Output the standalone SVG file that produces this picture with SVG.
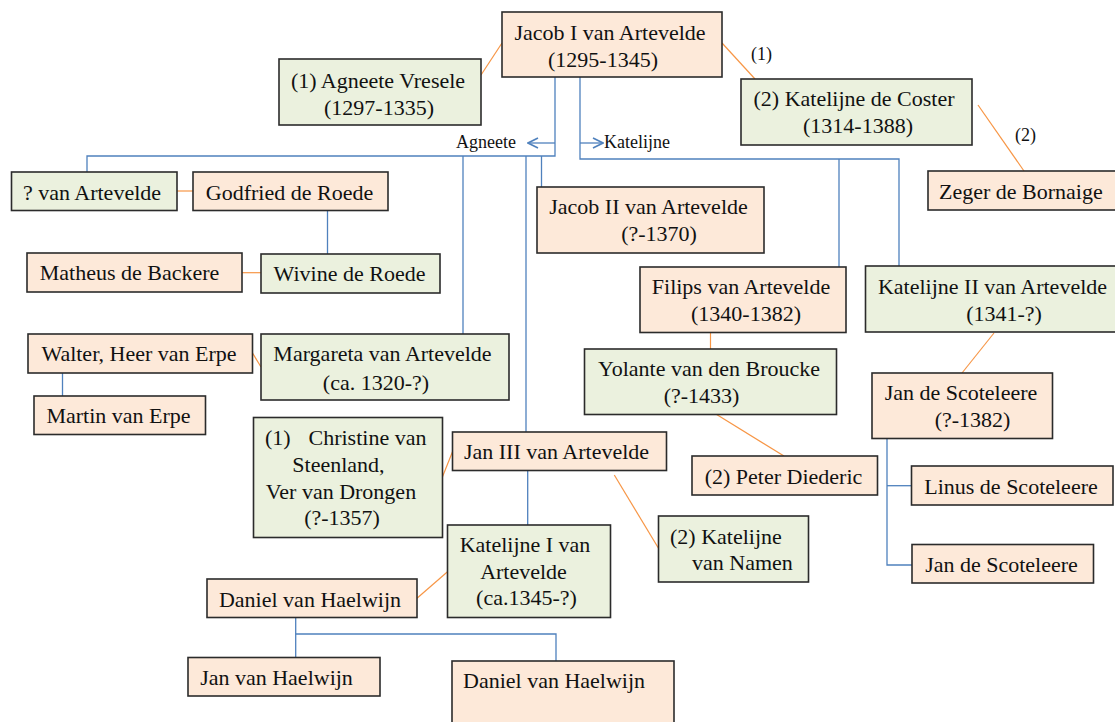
<svg xmlns="http://www.w3.org/2000/svg" width="1115" height="722" viewBox="0 0 1115 722" font-family="'Liberation Serif', 'Times New Roman', 'DejaVu Serif', serif">
<defs>
<style>
.p{fill:#FDE9D9;stroke:#2b2b2b;stroke-width:1.6}
.g{fill:#EBF1DE;stroke:#2b2b2b;stroke-width:1.6}
text{font-size:22px;fill:#111}
.c{text-anchor:middle}
.s{font-size:18px}
.b{fill:none;stroke:#4F81BD;stroke-width:1.3}
.o{fill:none;stroke:#F79646;stroke-width:1.2}
</style>
<marker id="ah" viewBox="0 0 12 12" refX="11" refY="6" markerWidth="12" markerHeight="12" markerUnits="userSpaceOnUse" orient="auto">
<path d="M1,1 L11,6 L1,11" fill="none" stroke="#4F81BD" stroke-width="1.6"/>
</marker>
</defs>
<rect width="1115" height="722" fill="#fff"/>
<g id="connectors">
<polyline class="b" points="555,77 555,156 87,156 87,172"/>
<polyline class="b" points="580,77 580,159 899,159 899,266"/>
<line class="b" x1="839" y1="159" x2="839" y2="267"/>
<line class="b" x1="555" y1="143" x2="528" y2="143" marker-end="url(#ah)"/>
<line class="b" x1="580" y1="143" x2="603" y2="143" marker-end="url(#ah)"/>
<line class="b" x1="463" y1="156" x2="463" y2="334"/>
<line class="b" x1="526" y1="156" x2="526" y2="432"/>
<line class="b" x1="541.5" y1="156" x2="541.5" y2="187"/>
<line class="b" x1="327.5" y1="210" x2="327.5" y2="254"/>
<line class="b" x1="62.5" y1="373" x2="62.5" y2="396"/>
<line class="b" x1="527.7" y1="470" x2="527.7" y2="525"/>
<polyline class="b" points="295.7,617.5 295.7,657.5"/>
<polyline class="b" points="295.7,634 556,634 556,661"/>
<polyline class="b" points="887,438.5 887,565 912,565"/>
<line class="b" x1="887" y1="485.7" x2="911.5" y2="485.7"/>
<line class="o" x1="481" y1="75" x2="502" y2="43"/>
<line class="o" x1="722" y1="43" x2="755" y2="79"/>
<line class="o" x1="978" y1="105" x2="1024" y2="171"/>
<line class="o" x1="177" y1="191" x2="193" y2="191"/>
<line class="o" x1="242" y1="272.7" x2="261" y2="272.7"/>
<line class="o" x1="252.5" y1="353" x2="261" y2="367"/>
<line class="o" x1="442.5" y1="476.7" x2="452.5" y2="451.7"/>
<line class="o" x1="417" y1="598.3" x2="447.5" y2="571.7"/>
<line class="o" x1="614.3" y1="475" x2="658.5" y2="548.3"/>
<line class="o" x1="710.5" y1="332.5" x2="710.5" y2="349"/>
<line class="o" x1="713" y1="412.3" x2="784" y2="456"/>
<line class="o" x1="994" y1="333" x2="962" y2="373"/>
</g>
<g id="labels">
<text class="s" x="516" y="148" text-anchor="end">Agneete</text>
<text class="s" x="604" y="148">Katelijne</text>
<text class="s" x="751" y="60">(1)</text>
<text class="s" x="1015" y="141">(2)</text>
</g>
<g id="jacob1"><rect class="p" x="502" y="12" width="220" height="65"/><text class="c" x="610" y="39.5">Jacob I van Artevelde</text><text class="c" x="603" y="66.5">(1295-1345)</text></g>
<g id="agneete"><rect class="g" x="279" y="59" width="202" height="66"/><text class="c" x="378" y="87.5">(1) Agneete Vresele</text><text class="c" x="379" y="114.5">(1297-1335)</text></g>
<g id="katelijne-coster"><rect class="g" x="741" y="79" width="231" height="66"/><text class="c" x="854" y="106">(2) Katelijne de Coster</text><text class="c" x="858" y="133">(1314-1388)</text></g>
<g id="zeger"><rect class="p" x="928" y="171" width="195" height="39"/><text x="939" y="199">Zeger de Bornaige</text></g>
<g id="unknown-artevelde"><rect class="g" x="11.5" y="172" width="165.5" height="38.5"/><text class="c" x="92" y="199.5">? van Artevelde</text></g>
<g id="godfried"><rect class="p" x="193" y="172" width="195" height="38.5"/><text class="c" x="289.5" y="199.5">Godfried de Roede</text></g>
<g id="jacob2"><rect class="p" x="537" y="187" width="227" height="66"/><text class="c" x="648.5" y="213.5">Jacob II van Artevelde</text><text class="c" x="659" y="240.5">(?-1370)</text></g>
<g id="matheus"><rect class="p" x="27" y="253" width="215" height="39"/><text class="c" x="129.5" y="280">Matheus de Backere</text></g>
<g id="wivine"><rect class="g" x="261" y="254" width="179" height="39"/><text class="c" x="349.5" y="280.5">Wivine de Roede</text></g>
<g id="walter"><rect class="p" x="28" y="334" width="224.5" height="39"/><text class="c" x="139" y="361">Walter, Heer van Erpe</text></g>
<g id="margareta"><rect class="g" x="261" y="334" width="248" height="66"/><text class="c" x="382.5" y="361">Margareta van Artevelde</text><text class="c" x="376" y="389.5">(ca. 1320-?)</text></g>
<g id="martin"><rect class="p" x="34" y="396" width="171.5" height="38.5"/><text class="c" x="118.5" y="423">Martin van Erpe</text></g>
<g id="christine"><rect class="g" x="253.5" y="417.5" width="189" height="120"/><text y="445"><tspan x="265">(1)</tspan><tspan x="308.5">Christine van</tspan></text><text class="c" x="338.5" y="471.5">Steenland,</text><text class="c" x="341" y="498.5">Ver van Drongen</text><text class="c" x="342" y="525">(?-1357)</text></g>
<g id="jan3"><rect class="p" x="452.5" y="432" width="214" height="38.5"/><text class="c" x="556.5" y="458.5">Jan III van Artevelde</text></g>
<g id="katelijne1"><rect class="g" x="447.5" y="525" width="163" height="92.5"/><text class="c" x="525" y="552">Katelijne I van</text><text class="c" x="523.5" y="578.5">Artevelde</text><text class="c" x="526.5" y="605">(ca.1345-?)</text></g>
<g id="daniel"><rect class="p" x="207" y="579" width="210" height="38.5"/><text class="c" x="310" y="606.5">Daniel van Haelwijn</text></g>
<g id="jan-haelwijn"><rect class="p" x="188" y="657.5" width="192" height="38.5"/><text class="c" x="276.5" y="685">Jan van Haelwijn</text></g>
<g id="daniel2"><rect class="p" x="452" y="661" width="222" height="70"/><text x="463" y="688">Daniel van Haelwijn</text></g>
<g id="filips"><rect class="p" x="640" y="267" width="206" height="65.5"/><text class="c" x="741" y="293.5">Filips van Artevelde</text><text class="c" x="746" y="320.5">(1340-1382)</text></g>
<g id="katelijne2"><rect class="g" x="865.5" y="266" width="260" height="66"/><text class="c" x="992.5" y="293.5">Katelijne II van Artevelde</text><text class="c" x="1004" y="320.5">(1341-?)</text></g>
<g id="yolante"><rect class="g" x="584.5" y="349" width="252" height="65.5"/><text class="c" x="709" y="376">Yolante van den Broucke</text><text class="c" x="701.5" y="402.5">(?-1433)</text></g>
<g id="peter"><rect class="p" x="692" y="456" width="185.5" height="39"/><text class="c" x="783.5" y="483.5">(2) Peter Diederic</text></g>
<g id="jan-scoteleere"><rect class="p" x="872" y="373" width="180.5" height="65.5"/><text class="c" x="961" y="400">Jan de Scoteleere</text><text class="c" x="972.5" y="426.5">(?-1382)</text></g>
<g id="linus"><rect class="p" x="911.5" y="466" width="201.5" height="39"/><text class="c" x="1011" y="493.5">Linus de Scoteleere</text></g>
<g id="jan-scoteleere2"><rect class="p" x="912" y="544.5" width="181.5" height="38.5"/><text class="c" x="1001.5" y="571.5">Jan de Scoteleere</text></g>
<g id="katelijne-namen"><rect class="g" x="658.5" y="516" width="150" height="66"/><text x="670" y="543.5">(2) Katelijne</text><text x="692" y="570">van Namen</text></g>
</svg>
